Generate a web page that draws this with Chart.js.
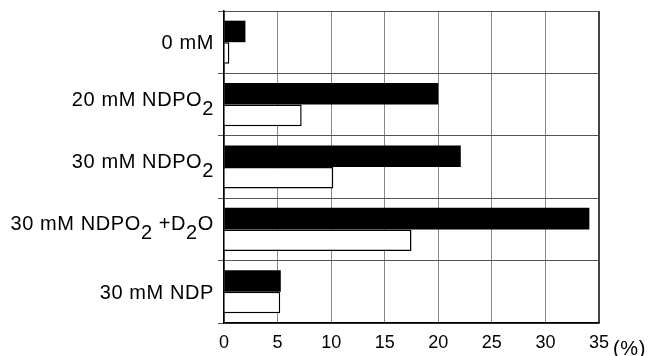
<!DOCTYPE html>
<html>
<head>
<meta charset="utf-8">
<script src="https://cdn.jsdelivr.net/npm/chart.js@4.4.1/dist/chart.umd.min.js"></script>
<style>
  body { margin: 0; background: #fff; }
  #wrap { width: 649px; height: 356px; position: relative; }
</style>
</head>
<body>
<div id="wrap"><canvas id="barChart"></canvas></div>
<script>
// rows, top to bottom. "_2" means a subscript 2
let rowLabels = ["0 mM", "20 mM NDPO_2", "30 mM NDPO_2", "30 mM NDPO_2 +D_2O", "30 mM NDP"];
// filled (black) bars and open (white) bars, in %
let blackValues = [2.0, 20.0, 22.1, 34.1, 5.3];
let whiteValues = [0.5, 7.25, 10.2, 17.5, 5.25];
// x axis
let xTicks = [0, 5, 10, 15, 20, 25, 30, 35];
let xUnit = "(%)";

const FONT = '"Liberation Sans", Arial, Helvetica, sans-serif';
Chart.defaults.font.family = FONT;
Chart.defaults.color = '#000';

// chart.js can't do subscripts in tick labels, so draw the row names here
const rowLabelPlugin = {
  id: 'rowLabels',
  afterDraw(chart) {
    let c = chart.ctx;
    let yAxis = chart.scales.y;
    let area = chart.chartArea;
    c.save();
    c.fillStyle = '#000';
    c.font = '20px ' + FONT;
    c.letterSpacing = '0.6px';
    c.textAlign = 'left';
    c.textBaseline = 'alphabetic';
    rowLabels.forEach((lab, i) => {
      let parts = lab.split(/(_\d)/).filter(p => p);
      let hasSub = parts.some(p => p[0] === '_');
      let widths = parts.map(p => c.measureText(p.replace('_', '')).width);
      let total = widths.reduce((a, b) => a + b, 0);
      let x = area.left - 10 - total;
      let mid = yAxis.getPixelForValue(i);
      let base = mid + 7 - (hasSub ? 6 : 0);
      parts.forEach((p, k) => {
        let sub = p[0] === '_';
        c.fillText(p.replace('_', ''), x, sub ? base + 9 : base);
        x += widths[k];
      });
    });
    // unit next to the last tick
    c.font = '20px ' + FONT;
    c.fillText(xUnit, area.right + 14, 355);
    c.restore();
  }
};

let ctx = document.getElementById('barChart').getContext('2d');

new Chart(ctx, {
  type: 'bar',
  data: {
    labels: rowLabels.map(l => l.replace(/_/g, '')),
    datasets: [{
      label: 'filled',
      data: blackValues,
      backgroundColor: '#000',
      borderColor: '#000',
      borderWidth: 0
    }, {
      label: 'open',
      data: whiteValues,
      backgroundColor: '#fff',
      borderColor: '#000',
      borderWidth: 1.5
    }]
  },
  options: {
    indexAxis: 'y',
    responsive: true,
    maintainAspectRatio: false,
    animation: false,
    layout: { padding: { top: 11, right: 50, left: 0, bottom: 0 } },
    datasets: { bar: { categoryPercentage: 0.69, barPercentage: 1.0 } },
    plugins: {
      legend: { display: false },
      tooltip: { enabled: false }
    },
    scales: {
      // x-axis (%)
      x: {
        min: 0,
        max: 35,
        afterBuildTicks: scale => { scale.ticks = xTicks.map(v => ({ value: v })); },
        afterFit: scale => { scale.height = 33; },
        ticks: { font: { size: 18 }, color: '#000', padding: 9 },
        grid: {
          drawTicks: false,
          color: ctx => ctx.tick && ctx.tick.value === 35 ? '#444' : '#888',
          lineWidth: ctx => ctx.tick && ctx.tick.value === 35 ? 2 : 1
        },
        border: { color: '#000', width: 1.5 }
      },
      // y-axis (rows)
      y: {
        afterFit: scale => { scale.width = 224; },
        ticks: { display: false },
        grid: { color: '#555', lineWidth: 1, tickLength: 6 },
        border: { color: '#000', width: 1.5 }
      }
    }
  },
  plugins: [rowLabelPlugin]
});
</script>
</body>
</html>
